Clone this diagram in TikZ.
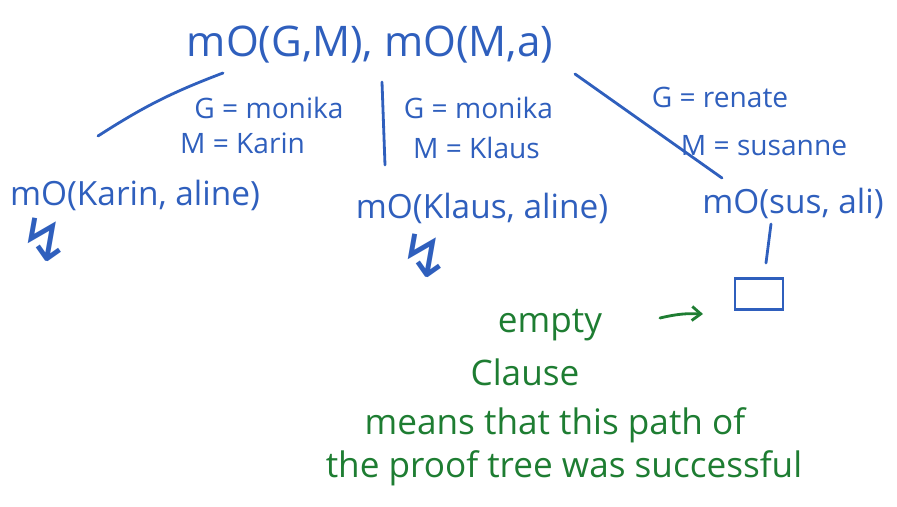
\documentclass[tikz,border=0pt]{standalone}
\usepackage{fontspec}
\setmainfont{Open Sans}
\newfontfamily\symfont{DejaVu Sans}
\usetikzlibrary{calc,positioning,arrows.meta}
\definecolor{penBlue}{HTML}{2F5FBD}
\definecolor{penGreen}{HTML}{1E7D32}
\begin{document}
\begin{tikzpicture}[
  goal/.style={text=penBlue,font=\fontsize{19}{22}\selectfont,inner sep=1pt},
  topgoal/.style={goal,font=\fontsize{24}{28}\selectfont},
  sub/.style={text=penBlue,font=\fontsize{16}{19}\selectfont,inner sep=1pt},
  bolt/.style={text=penBlue,font=\symfont\fontsize{34}{38}\selectfont,inner sep=0pt},
  note/.style={text=penGreen,font=\fontsize{20}{24}\selectfont,inner sep=1pt},
  e/.style={penBlue,line width=1.6pt,line cap=round},
  g/.style={-{Straight Barb[length=5pt,width=8pt]},penGreen,line width=1.6pt,line cap=round}]
  \useasboundingbox (0,0) rectangle (17.94,-10.12);
  % goals
  \node[topgoal] (top) at (7.4,-0.9)   {mO(G,M), mO(M,a)};
  \node[goal]    (kar) at (2.7,-3.9)   {mO(Karin, aline)};
  \node[goal]    (kla) at (9.64,-4.16) {mO(Klaus, aline)};
  \node[goal]    (sus) at (15.86,-4.06){mO(sus, ali)};
  % substitutions
  \node[sub] (g1) at (5.38,-2.16)  {G = monika};
  \node[sub] (m1) at (4.85,-2.87)  {M = Karin};
  \node[sub] (g2) at (9.57,-2.16)  {G = monika};
  \node[sub] (m2) at (9.53,-2.96)  {M = Klaus};
  \node[sub] (g3) at (14.4,-1.94)  {G = renate};
  \node[sub] (m3) at (15.28,-2.92) {M = susanne};
  % failures, empty clause
  \node[bolt] (f1) at (0.9,-4.8)  {↯};
  \node[bolt] (f2) at (8.5,-5.12) {↯};
  \node[draw=penBlue,line width=1.6pt,minimum width=0.96cm,minimum height=0.62cm,
        inner sep=0pt] (box) at (15.18,-5.88) {};
  \draw[e] ($(top)+(-2.94,-0.56)$) to[bend right=6] ($(kar)+(-0.74,1.18)$);
  \draw[e] ($(top)+(0.24,-0.74)$) -- ($(kla)+(-1.94,0.86)$);
  \draw[e] ($(top)+(4.1,-0.58)$) -- ($(sus)+(-1.42,0.5)$);
  \draw[e] ($(sus)+(-0.44,-0.42)$) -- ($(box)+(0.14,0.62)$);
  % note
  \node[note] (n1) at (11.0,-6.5)  {empty};
  \node[note] (n2) at (10.5,-7.44) {Clause};
  \node[note] (n3) at (11.1,-8.5)  {means that this path of};
  \node[note] (n4) at (11.28,-9.36) {the proof tree was successful};
  \draw[g] ($(n1)+(2.2,0.14)$) to[bend left=8] ($(box)+(-1.12,-0.4)$);
\end{tikzpicture}
\end{document}
